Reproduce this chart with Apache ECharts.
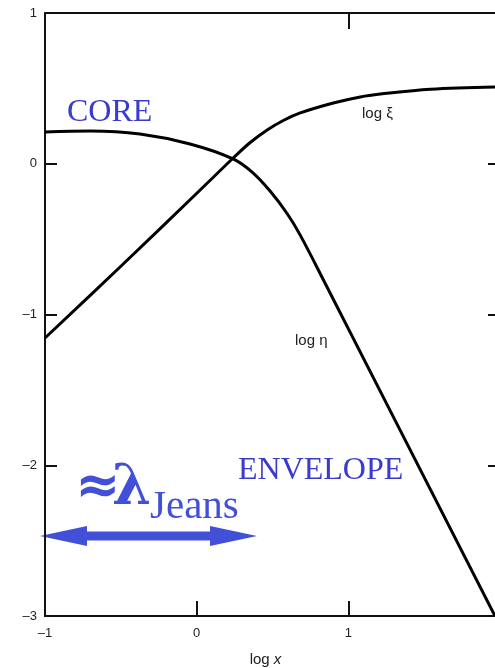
<!DOCTYPE html>
<html>
<head>
<meta charset="utf-8">
<script src="https://cdn.jsdelivr.net/npm/echarts@6/dist/echarts.min.js"></script>
<style>
  html, body { margin: 0; padding: 0; background: #fff; }
  #chart { width: 495px; height: 668px; }
</style>
</head>
<body>
<div id="chart"></div>
<script>
// log xi curve (rising)
var xiX = [-1.0, -0.505, 0.023, 0.241, 0.353, 0.465, 0.571, 0.683, 0.901, 1.079, 1.211, 1.541, 1.97]
var xiY = [-1.156, -0.685, -0.174, 0.038, 0.141, 0.224, 0.287, 0.337, 0.403, 0.443, 0.462, 0.495, 0.51]
// log eta curve (core plateau, then envelope falling)
var etaX = [-1.0, -0.703, -0.374, -0.044, 0.24, 0.371, 0.484, 0.596, 0.681, 0.846, 1.967]
var etaY = [0.211, 0.217, 0.197, 0.131, 0.032, -0.06, -0.181, -0.33, -0.47, -0.791, -3.0]
// ticks
var xLabels = [-1, 0, 1]
var xTicks = [0, 1]
var topTicks = [1]
var yLabels = [-3, -2, -1, 0, 1]
var yTicks = [-2, -1, 0]

function pairs(xs, ys) {
    return xs.map(function (x, i) { return [x, ys[i]] })
}

var blue = '#3a3bcc'
var blue2 = '#4250d8'
var tickFont = 'Liberation Sans, Arial, sans-serif'
var serif = 'Liberation Serif, Times New Roman, serif'

var chart = echarts.init(document.getElementById('chart'))

function minusLabel(v) { return v < 0 ? '\u2013' + Math.abs(v) : String(v) }

var options = {
    animation: false,
    grid: { left: 45, right: -5, top: 13, bottom: 52, containLabel: false, outerBoundsMode: 'none' },
    xAxis: [
        {
            type: 'value', min: -1, max: 2, position: 'bottom',
            splitLine: { show: false },
            axisLine: { onZero: false, lineStyle: { color: '#111', width: 2 } },
            axisTick: { inside: true, length: 15, customValues: xTicks, lineStyle: { color: '#111', width: 2 } },
            axisLabel: { customValues: xLabels, margin: 11, color: '#222', fontSize: 13, fontFamily: tickFont, formatter: minusLabel },
            name: '{a|log }{b|x}',
            nameLocation: 'middle',
            nameGap: 36,
            nameTextStyle: {
                padding: [0, 14, 0, 0],
                rich: {
                    a: { fontSize: 15, fontFamily: tickFont, color: '#222' },
                    b: { fontSize: 15, fontFamily: tickFont, fontStyle: 'italic', color: '#222' }
                }
            }
        },
        {
            type: 'value', min: -1, max: 2, position: 'top',
            splitLine: { show: false },
            axisLine: { onZero: false, lineStyle: { color: '#111', width: 2 } },
            axisTick: { inside: true, length: 16, customValues: topTicks, lineStyle: { color: '#111', width: 2 } },
            axisLabel: { show: false }
        }
    ],
    yAxis: [
        {
            type: 'value', min: -3, max: 1, interval: 1, position: 'left',
            splitLine: { show: false },
            axisLine: { onZero: false, lineStyle: { color: '#111', width: 2 } },
            axisTick: { inside: true, length: 12, customValues: yTicks, lineStyle: { color: '#111', width: 2 } },
            axisLabel: { customValues: yLabels, margin: 8, color: '#222', fontSize: 13, fontFamily: tickFont, formatter: minusLabel }
        },
        {
            type: 'value', min: -3, max: 1, interval: 1, position: 'right',
            splitLine: { show: false },
            axisLine: { onZero: false, lineStyle: { color: '#111', width: 2 } },
            axisTick: { inside: true, length: 12, customValues: yTicks, lineStyle: { color: '#111', width: 2 } },
            axisLabel: { show: false }
        }
    ],
    series: [
        {
            name: 'log xi', type: 'line', data: pairs(xiX, xiY),
            smooth: 0.35, showSymbol: false, symbol: 'none',
            lineStyle: { color: '#000', width: 3 }
        },
        {
            name: 'log eta', type: 'line', data: pairs(etaX, etaY),
            smooth: 0.35, showSymbol: false, symbol: 'none',
            lineStyle: { color: '#000', width: 3 }
        }
    ]
}
chart.setOption(options)

// annotations: text and the double-headed arrow
function arrowPoints(x1, x2, y) {
    var hl = 47, hw = 10, sw = 4.5
    return [
        [x1, y], [x1 + hl, y - hw], [x1 + hl, y - sw], [x2 - hl, y - sw],
        [x2 - hl, y - hw], [x2, y], [x2 - hl, y + hw], [x2 - hl, y + sw],
        [x1 + hl, y + sw], [x1 + hl, y + hw]
    ]
}

chart.setOption({
    graphic: [
        { type: 'text', x: 67, y: 97, style: { text: 'CORE', fill: blue, font: '32px ' + serif } },
        { type: 'text', x: 238, y: 455, style: { text: 'ENVELOPE', fill: blue, font: '32px ' + serif } },
        { type: 'text', x: 75, y: 462, style: { text: '\u2248', fill: blue2, font: 'bold 54px DejaVu Sans' } },
        { type: 'text', x: 112, y: 461, style: { text: '\u03bb', fill: blue2, font: 'bold 56px DejaVu Serif' } },
        { type: 'text', x: 150, y: 487, style: { text: 'Jeans', fill: blue2, font: '41px ' + serif } },
        { type: 'polygon', shape: { points: arrowPoints(40, 257, 536) }, style: { fill: blue2 } },
        { type: 'text', x: 362, y: 106, style: { text: 'log \u03be', fill: '#222', font: '15px ' + tickFont } },
        { type: 'text', x: 295, y: 333, style: { text: 'log \u03b7', fill: '#222', font: '15px ' + tickFont } }
    ]
})
</script>
</body>
</html>
